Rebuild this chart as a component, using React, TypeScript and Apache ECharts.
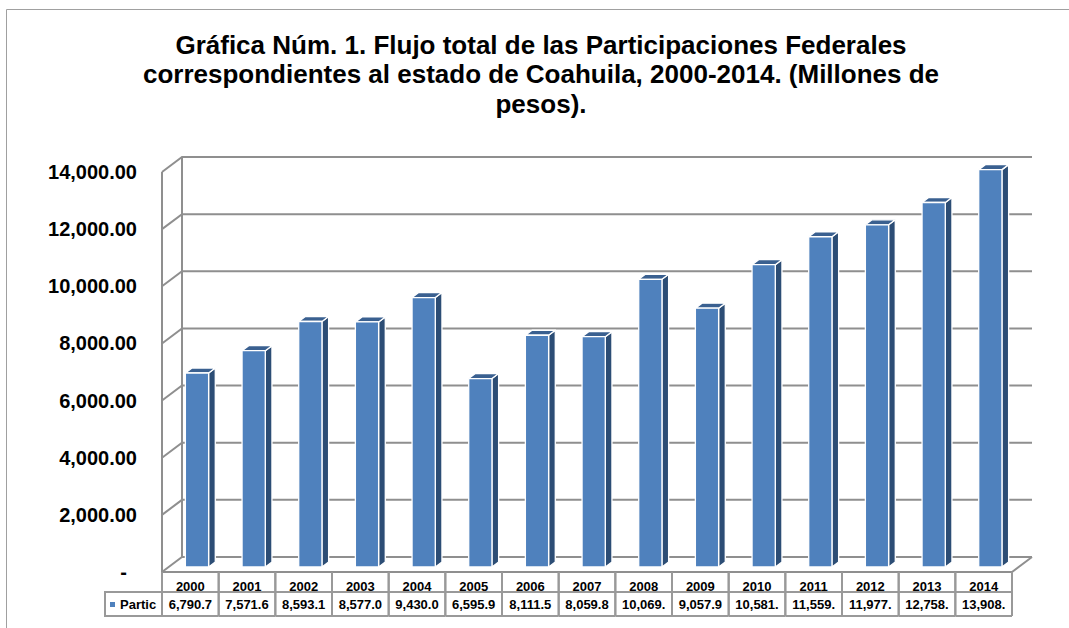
import React, { useEffect, useRef } from 'react';
import * as echarts from 'echarts';

const TITLE_LINES = [
  'Gráfica Núm. 1. Flujo total de las Participaciones Federales',
  'correspondientes al estado de Coahuila, 2000-2014. (Millones de',
  'pesos).',
];
const YEARS = ['2000', '2001', '2002', '2003', '2004', '2005', '2006', '2007', '2008', '2009', '2010', '2011', '2012', '2013', '2014'];
const PARTICIPACIONES = [6790.7, 7571.6, 8593.1, 8577.0, 9430.0, 6595.9, 8111.5, 8059.8, 10069.0, 9057.9, 10581.0, 11559.0, 11977.0, 12758.0, 13908.0];
const SERIES_NAME = 'Partic';
const Y_TICKS = [0, 2000, 4000, 6000, 8000, 10000, 12000, 14000];

const FONT = "'Liberation Sans', Arial, sans-serif";
const DX = 20; // depth offset of the back wall
const DY = 15;
const GRID_COLOR = '#8f8f8f';
const TABLE_COLOR = '#999999';
const FRONT = '#4f81bd';
const SIDE = '#2c4d75';
const TOP = '#3a6090';

const fmtAxis = (v: number) =>
  v === 0 ? '{d|-}' : v.toLocaleString('en-US', { minimumFractionDigits: 2, maximumFractionDigits: 2 });
const fmtCell = (v: number) =>
  v.toLocaleString('en-US', { minimumFractionDigits: 1, maximumFractionDigits: 1 }).slice(0, 7);

export default function App() {
  const ref = useRef<HTMLDivElement>(null);
  useEffect(() => {
    if (!ref.current) return;
    const chart = echarts.init(ref.current, undefined, { renderer: 'svg' });
    const n = YEARS.length;

    const wallItem = (params: any, api: any) => {
      const v = api.value(1);
      const [cx0, y] = api.coord([0, v]);
      const [cxN] = api.coord([n - 1, v]);
      const w = api.size([1, 0])[0];
      const left = cx0 - w / 2;
      const right = cxN + w / 2;
      const ls = { stroke: GRID_COLOR, lineWidth: 2, fill: 'none' };
      const children: any[] = [
        { type: 'polyline', shape: { points: [[left, y], [left + DX, y - DY], [right + DX, y - DY]] }, style: ls },
      ];
      if (v === 0) {
        const [, yTop] = api.coord([0, Y_TICKS[Y_TICKS.length - 1]]);
        children.push(
          { type: 'line', shape: { x1: left, y1: y, x2: left, y2: yTop }, style: ls },
          { type: 'line', shape: { x1: left + DX, y1: y - DY, x2: left + DX, y2: yTop - DY }, style: ls },
          { type: 'polyline', shape: { points: [[left, y], [right, y], [right + DX, y - DY]] }, style: ls },
        );
      }
      return { type: 'group', children };
    };

    const barItem = (params: any, api: any) => {
      const i = api.value(0);
      const v = api.value(1);
      const [cx, y0] = api.coord([i, 0]);
      const [, yv] = api.coord([i, v]);
      const w = api.size([1, 0])[0];
      const bw = w * 0.41;
      const d = DX / 3;
      const e = DY / 3;
      const x1 = cx - bw / 2 + d;
      const x2 = x1 + bw;
      const yb = y0 - e;
      const yt = yv - e;
      const st = { stroke: '#ffffff', lineWidth: 1.3, lineJoin: 'round' };
      return {
        type: 'group',
        children: [
          { type: 'polygon', shape: { points: [[x2, yb], [x2 + d, yb - e], [x2 + d, yt - e], [x2, yt]] }, style: { ...st, fill: SIDE } },
          { type: 'polygon', shape: { points: [[x1, yt], [x2, yt], [x2 + d, yt - e], [x1 + d, yt - e]] }, style: { ...st, fill: TOP } },
          { type: 'rect', shape: { x: x1, y: yt, width: bw, height: yb - yt }, style: { ...st, fill: FRONT } },
        ],
      };
    };

    const tableItem = (params: any, api: any) => {
      const i = api.value(0);
      const v = api.value(1);
      const [cx, y0] = api.coord([i, 0]);
      const w = api.size([1, 0])[0];
      const x1 = cx - w / 2;
      const hTop = y0;
      const hBot = y0 + 20;
      const vBot = y0 + 44;
      const bs = { stroke: TABLE_COLOR, lineWidth: 2, fill: 'none' };
      const ts = { font: `bold 13px ${FONT}`, fill: '#000', align: 'center', verticalAlign: 'middle' };
      const children: any[] = [
        { type: 'line', shape: { x1, y1: hTop, x2: x1, y2: vBot }, style: bs },
        { type: 'line', shape: { x1: x1 + w, y1: hTop, x2: x1 + w, y2: vBot }, style: bs },
        { type: 'line', shape: { x1, y1: hBot, x2: x1 + w, y2: hBot }, style: bs },
        { type: 'line', shape: { x1, y1: vBot, x2: x1 + w, y2: vBot }, style: bs },
        { type: 'text', x: cx, y: hTop + 14, style: { ...ts, text: YEARS[i] } },
        { type: 'text', x: cx, y: hBot + 12.5, style: { ...ts, text: fmtCell(v) } },
      ];
      if (i === 0) {
        const lx = x1 - 57;
        children.push(
          { type: 'rect', shape: { x: lx, y: hBot, width: 57, height: vBot - hBot }, style: bs },
          { type: 'rect', shape: { x: lx + 5, y: hBot + 10, width: 5, height: 5 }, style: { fill: FRONT } },
          { type: 'text', x: lx + 15, y: hBot + 12.5, style: { ...ts, align: 'left', text: SERIES_NAME } },
        );
      }
      return { type: 'group', children };
    };

    chart.setOption({
      animation: false,
      backgroundColor: '#ffffff',
      graphic: [
        { type: 'rect', shape: { x: 6.5, y: 9.5, width: 1200, height: 800 }, style: { fill: 'none', stroke: '#a0a0a0', lineWidth: 1 }, z: 0 },
        {
          type: 'text',
          x: 541,
          y: 30,
          style: {
            text: TITLE_LINES.join('\n'),
            font: `bold 26px ${FONT}`,
            fill: '#000',
            align: 'center',
            verticalAlign: 'top',
            lineHeight: 29.5,
          },
        },
      ],
      grid: { left: 162, right: 57, top: 172, bottom: 56 },
      xAxis: { type: 'category', data: YEARS, show: false },
      yAxis: {
        type: 'value',
        min: 0,
        max: 14000,
        interval: 2000,
        splitLine: { show: false },
        axisLine: { show: false },
        axisTick: { show: false },
        axisLabel: {
          formatter: fmtAxis,
          margin: 25,
          color: '#000',
          fontWeight: 'bold',
          fontSize: 20,
          fontFamily: FONT,
          rich: { d: { fontWeight: 'bold', fontSize: 20, fontFamily: FONT, color: '#000', padding: [0, 10, 0, 0] } },
        },
      },
      series: [
        {
          type: 'custom',
          name: 'walls',
          renderItem: wallItem,
          data: Y_TICKS.map((v) => [0, v]),
          clip: false,
          z: 1,
          silent: true,
        },
        {
          type: 'custom',
          name: SERIES_NAME,
          renderItem: barItem,
          data: PARTICIPACIONES.map((v, i) => [i, v]),
          clip: false,
          z: 3,
        },
        {
          type: 'custom',
          name: 'table',
          renderItem: tableItem,
          data: PARTICIPACIONES.map((v, i) => [i, v]),
          clip: false,
          z: 2,
        },
      ],
    });
    return () => chart.dispose();
  }, []);
  return (
    <div
      ref={ref}
      style={{ position: 'absolute', left: 0, top: 0, width: 1069, height: 628, background: '#fff' }}
    />
  );
}
